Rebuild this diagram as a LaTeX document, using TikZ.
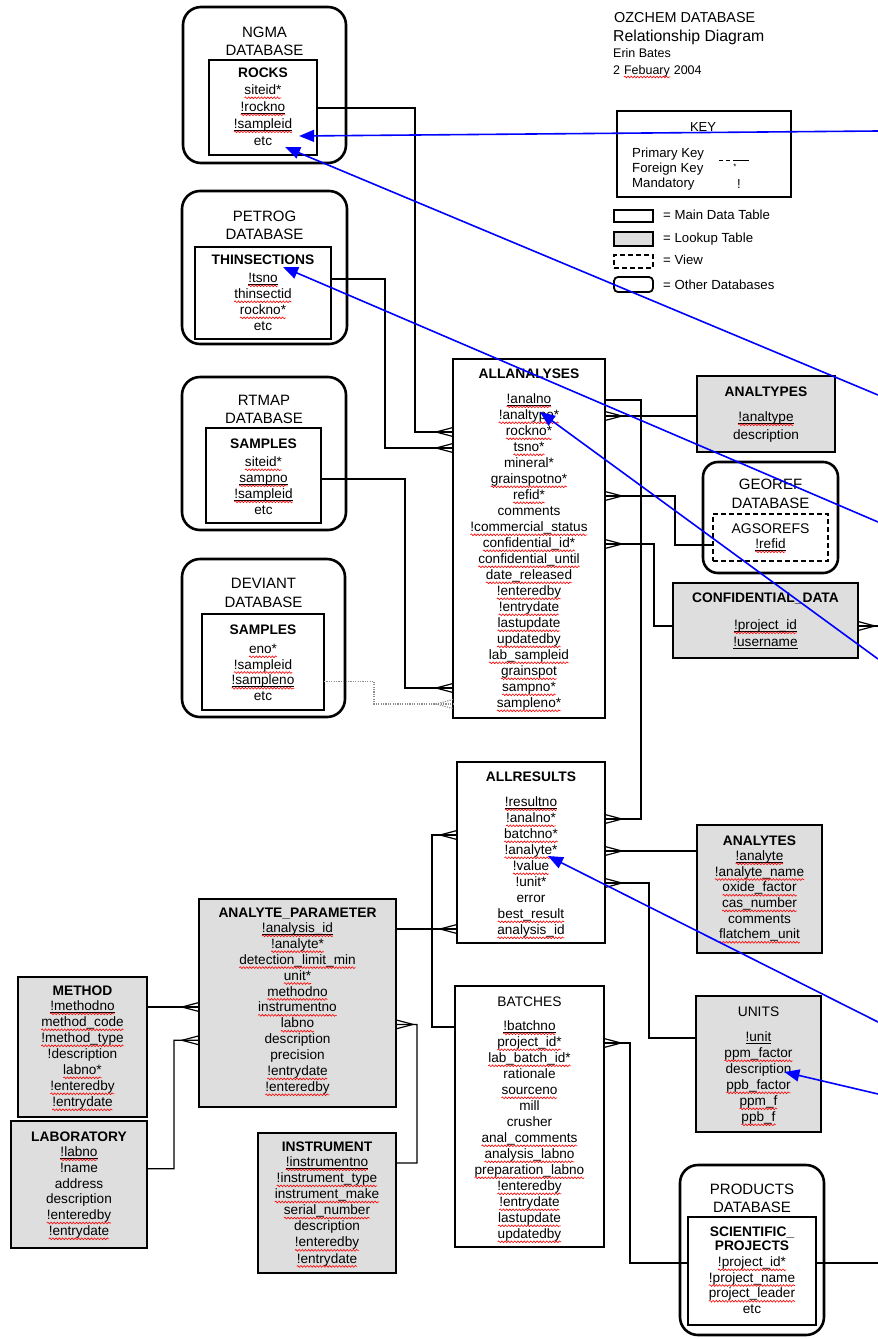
\documentclass[tikz,border=0pt]{standalone}
\usepackage{fontspec}
\setmainfont{Liberation Sans}
\usetikzlibrary{arrows.meta,decorations.pathmorphing}

\tikzset{
  tbl/.style={draw=black, line width=1.3pt, fill=white, rectangle, inner sep=0pt, outer sep=0pt, anchor=north west},
  lkp/.style={tbl, fill=black!13},
  vwt/.style={tbl, dash pattern=on 5pt off 3pt},
  dbs/.style={draw=black, line width=2.6pt, rectangle, rounded corners=18pt, inner sep=0pt, outer sep=0pt, anchor=north west},
  field/.style={font=\fontsize{13.6}{15}\selectfont, inner sep=0pt, outer sep=0pt, text height=9.8pt, text depth=3pt},
  ttl/.style={font=\bfseries\fontsize{13.8}{15}\selectfont, inner sep=0pt, text height=9.9pt, text depth=0pt},
  ttlr/.style={ttl, font=\fontsize{13.8}{15}\selectfont},
  dbn/.style={font=\fontsize{15}{17}\selectfont, inner sep=0pt, text height=10.7pt, text depth=0pt},
  txt/.style={inner sep=0pt, anchor=west, font=\fontsize{13.2}{14}\selectfont, text height=9.4pt, text depth=2.6pt},
  ulin/.style={draw=black, line width=0.8pt},
  wavy/.style={draw=red, line width=0.6pt, decorate, decoration={snake, amplitude=0.9pt, segment length=3.2pt}},
  conn/.style={draw=black, line width=1.2pt},
  dconn/.style={draw=black!45, line width=1.1pt, dash pattern=on 1.2pt off 1.2pt},
  note/.style={draw=blue, line width=1.6pt, -{Triangle[length=15pt, width=12pt]}},
  cfR/.pic={\draw[conn] (0,-4.5) -- (17,0) -- (0,4.5);},
  cfL/.pic={\draw[conn] (0,-4.5) -- (-17,0) -- (0,4.5);},
  cfLd/.pic={\draw[dconn] (0,-4.5) -- (-17,0) -- (0,4.5);},
}

% a table or database frame from its two corners
\newcommand\tablebox[6]{\node[#2, minimum width={(#5)-(#3)}, minimum height={(#6)-(#4)}] (#1) at (#3,#4) {};}

% column names of a table: code/name, code n = plain, u = key underline,
% w = spelling wave, b = both
\newcommand\fields[5]{%
  \foreach \fs/\ft [count=\i] in {#5}{%
    \pgfmathsetmacro\yy{#3+(\i-1)*#4}%
    \node[field] (#1-\i) at (#2,\yy) {\ft};%
    \if\fs u\draw[ulin] ([yshift=1.3pt]#1-\i.south west) -- ([yshift=1.3pt]#1-\i.south east);\fi
    \if\fs b\draw[ulin] ([yshift=1.3pt]#1-\i.south west) -- ([yshift=1.3pt]#1-\i.south east);\fi
    \if\fs w\draw[wavy] ([yshift=-0.4pt]#1-\i.south west) -- ([yshift=-0.4pt]#1-\i.south east);\fi
    \if\fs b\draw[wavy] ([yshift=-0.4pt]#1-\i.south west) -- ([yshift=-0.4pt]#1-\i.south east);\fi
  }%
}

\begin{document}
\begin{tikzpicture}[x=1pt,y=-1pt]
\fill[white] (0,0) rectangle (878,1339);
\useasboundingbox (0,0) rectangle (878,1339);

% heading
\node[anchor=west, inner sep=0pt, font=\fontsize{14.4}{16}\selectfont] (hd1) at (614,18) {OZCHEM DATABASE};
\node[anchor=west, inner sep=0pt, font=\fontsize{15.8}{17}\selectfont] (hd2) at (613,37) {Relationship Diagram};
\node[anchor=base west, inner sep=0pt, font=\fontsize{12.5}{13}\selectfont] (hd3) at (613,57) {Erin Bates};
\node[anchor=base west, inner sep=0pt, font=\fontsize{12.5}{13}\selectfont] (hd4a) at (613,74) {2};
\node[anchor=base west, inner sep=0pt, font=\fontsize{12.5}{13}\selectfont] (hd4b) at ([xshift=3.5pt]hd4a.base east) {Febuary};
\node[anchor=base west, inner sep=0pt, font=\fontsize{12.5}{13}\selectfont] (hd4c) at ([xshift=3.5pt]hd4b.base east) {2004};
\draw[wavy] ([yshift=-3pt]hd4b.base west) -- ([yshift=-3pt]hd4b.base east);

% key
\tablebox{keybox}{tbl}{617}{111}{791}{197}
\node[inner sep=0pt, font=\fontsize{13}{14}\selectfont] (keyt) at (703,127) {KEY};
\node[txt] (kp) at (632,154) {Primary Key};
\node[txt] (kf) at (632,169) {Foreign Key};
\node[txt] (km) at (632,184) {Mandatory};
\draw[line width=0.9pt] (719,160) -- (723,160) (726,160) -- (730,160) (733,160) -- (749,160);
\node[inner sep=0pt, font=\fontsize{8}{8}\selectfont] (ks) at (735,167) {*};
\node[inner sep=0pt, font=\fontsize{13}{14}\selectfont] (kx) at (739,184) {!};

% legend
\tablebox{lg1}{tbl}{614}{210}{653}{222}
\node[txt] (lg1t) at (663,216) {= Main Data Table};
\tablebox{lg2}{lkp}{614}{232}{653}{246}
\node[txt] (lg2t) at (663,239) {= Lookup Table};
\tablebox{lg3}{vwt}{614}{255}{653}{268}
\node[txt] (lg3t) at (663,261) {= View};
\node[dbs, line width=1.8pt, rounded corners=4pt, minimum width=39, minimum height=15] (lg4) at (614,277) {};
\node[txt] (lg4t) at (663,286) {= Other Databases};

% database frames and tables
\tablebox{ngma}{dbs}{183}{7}{346}{163}
\tablebox{rocks}{tbl}{209}{60}{317}{155}
\tablebox{petrog}{dbs}{182}{191}{347}{344}
\tablebox{thin}{tbl}{195}{247}{331}{339}
\tablebox{rtmap}{dbs}{182}{377}{346}{530}
\tablebox{rtsam}{tbl}{206}{428}{321}{523}
\tablebox{deviant}{dbs}{182}{559}{345}{717}
\tablebox{dvsam}{tbl}{202}{614}{324}{710}
\tablebox{allan}{tbl}{453}{359}{605}{718}
\tablebox{antyp}{lkp}{697}{376}{835}{452}
\node[dbs, rounded corners=15pt, minimum width=135, minimum height=111] (georef) at (703,462) {};
\tablebox{agso}{vwt}{713}{514}{828}{561}
\tablebox{confd}{lkp}{673}{583}{858}{658}
\tablebox{allres}{tbl}{457}{762}{605}{943}
\tablebox{anlt}{lkp}{697}{825}{822}{953}
\tablebox{units}{lkp}{696}{996}{821}{1132}
\tablebox{ap}{lkp}{199}{899}{396}{1107}
\tablebox{meth}{lkp}{18}{977}{147}{1117}
\tablebox{lab}{lkp}{11}{1121}{147}{1248}
\tablebox{instr}{lkp}{258}{1133}{396}{1273}
\tablebox{bat}{tbl}{455}{986}{604}{1247}
\tablebox{products}{dbs}{680}{1165}{824}{1335}
\tablebox{sp}{tbl}{688}{1217}{816}{1325}

% database names
\node[dbn] (ngma-n1) at (264.5,32) {NGMA};
\node[dbn] (ngma-n2) at (264.5,50) {DATABASE};
\node[dbn] (petrog-n1) at (264.5,216) {PETROG};
\node[dbn] (petrog-n2) at (264.5,234) {DATABASE};
\node[dbn] (rtmap-n1) at (264,400) {RTMAP};
\node[dbn] (rtmap-n2) at (264,418) {DATABASE};
\node[dbn] (deviant-n1) at (263.5,583) {DEVIANT};
\node[dbn] (deviant-n2) at (263.5,602) {DATABASE};
\node[dbn] (georef-n1) at (770.5,484) {GEOREF};
\node[dbn] (georef-n2) at (770.5,503) {DATABASE};
\node[dbn] (products-n1) at (752,1189) {PRODUCTS};
\node[dbn] (products-n2) at (752,1207) {DATABASE};

% table names
\node[ttl] (rocks-t) at (263,73) {ROCKS};
\node[ttl] (thin-t) at (263,260) {THINSECTIONS};
\node[ttl] (rtsam-t) at (263.5,444) {SAMPLES};
\node[ttl] (dvsam-t) at (263,630) {SAMPLES};
\node[ttl] (allan-t) at (529,374) {ALLANALYSES};
\node[ttl] (antyp-t) at (766,392) {ANALTYPES};
\node[dbn, font=\fontsize{14}{16}\selectfont] (agso-t) at (770.5,528) {AGSOREFS};
\node[ttl] (confd-t) at (765.5,598) {CONFIDENTIAL\_DATA};
\node[ttl] (allres-t) at (531,777) {ALLRESULTS};
\node[ttl] (anlt-t) at (759.5,841) {ANALYTES};
\node[ttlr] (units-t) at (758.5,1012) {UNITS};
\node[ttl] (ap-t) at (297.5,913) {ANALYTE\_PARAMETER};
\node[ttl] (meth-t) at (82.5,991) {METHOD};
\node[ttl] (lab-t) at (79,1137) {LABORATORY};
\node[ttl] (instr-t) at (327,1147) {INSTRUMENT};
\node[ttlr] (bat-t) at (529.5,1002) {BATCHES};
\node[ttl] (sp-t1) at (752,1232) {SCIENTIFIC\_};
\node[ttl] (sp-t2) at (752,1246) {PROJECTS};

% columns
\fields{rocks}{263}{91}{17}{w/siteid*,b/!rockno,b/!sampleid,n/etc}
\fields{thin}{263}{279}{16}{b/!tsno,w/thinsectid,w/rockno*,n/etc}
\fields{rtsam}{263.5}{463}{16}{w/siteid*,b/sampno,b/!sampleid,n/etc}
\fields{dvsam}{263}{650}{15.7}{w/eno*,w/!sampleid,b/!sampleno,n/etc}
\fields{allan}{529}{400}{16}{b/!analno,w/!analtype*,w/rockno*,w/tsno*,n/mineral*,w/grainspotno*,w/refid*,n/comments,w/!commercial\_status,w/confidential\_id*,w/confidential\_until,w/date\_released,w/!enteredby,w/!entrydate,w/lastupdate,w/updatedby,w/lab\_sampleid,w/grainspot,w/sampno*,w/sampleno*}
\fields{antyp}{766}{418}{18}{b/!analtype,n/description}
\fields{agso}{770.5}{545}{16}{b/!refid}
\fields{confd}{765.5}{626}{17}{b/!project\_id,u/!username}
\fields{allres}{531}{803}{16}{b/!resultno,w/!analno*,w/batchno*,w/!analyte*,w/!value,n/!unit*,n/error,w/best\_result,w/analysis\_id}
\fields{anlt}{759.5}{857}{15.7}{b/!analyte,w/!analyte\_name,w/oxide\_factor,w/cas\_number,n/comments,w/flatchem\_unit}
\fields{units}{758.5}{1038}{16}{u/!unit,w/ppm\_factor,n/description,w/ppb\_factor,w/ppm\_f,w/ppb\_f}
\fields{ap}{297.5}{929}{15.9}{b/!analysis\_id,w/!analyte*,w/detection\_limit\_min,w/unit*,w/methodno,w/instrumentno,w/labno,n/description,n/precision,w/!entrydate,w/!enteredby}
\fields{meth}{82.5}{1007}{16}{b/!methodno,w/method\_code,w/!method\_type,n/!description,w/labno*,w/!enteredby,w/!entrydate}
\fields{lab}{79}{1153}{15.8}{b/!labno,n/!name,n/address,n/description,w/!enteredby,w/!entrydate}
\fields{instr}{327}{1163}{16.1}{b/!instrumentno,w/!instrument\_type,w/instrument\_make,w/serial\_number,n/description,w/!enteredby,w/!entrydate}
\fields{bat}{529.5}{1027}{16}{b/!batchno,w/project\_id*,w/lab\_batch\_id*,n/rationale,w/sourceno,n/mill,n/crusher,w/anal\_comments,w/analysis\_labno,w/preparation\_labno,w/!enteredby,w/!entrydate,w/lastupdate,w/updatedby}
\fields{sp}{752}{1263}{15.7}{w/!project\_id*,w/!project\_name,w/project\_leader,n/etc}

% relationships
\coordinate (cdout) at (878,626);
\coordinate (spout) at (878,1263);
\draw[conn] (rocks.east |- rocks-2) -| (415,432) -- (allan.west |- allan-3);
\pic at (allan.west |- allan-3) {cfL};
\draw[conn] (thin.east |- thin-1) -| (385,448) -- (allan.west |- allan-4);
\pic at (allan.west |- allan-4) {cfL};
\draw[conn] (rtsam.east |- rtsam-2) -| (405,688) -- (allan.west |- allan-19);
\pic at (allan.west |- allan-19) {cfL};
\draw[dconn] (dvsam.east |- dvsam-3) -| (374,704) -- (allan.west |- allan-20);
\pic at (allan.west |- allan-20) {cfLd};
\draw[conn] (allan.east |- allan-2) -- (antyp.west |- allan-2);
\pic at (allan.east |- allan-2) {cfR};
\draw[conn] (allan.east |- allan-7) -| (675,545) -- (agso.west |- agso-1);
\pic at (allan.east |- allan-7) {cfR};
\draw[conn] (allan.east |- allan-10) -| (654,626) -- (confd.west |- confd-1);
\pic at (allan.east |- allan-10) {cfR};
\draw[conn] (confd.east |- confd-1) -- (cdout);
\pic at (confd.east |- confd-1) {cfR};
\draw[conn] (allan.east |- allan-1) -| (641,819) -- (allres.east |- allres-2);
\pic at (allres.east |- allres-2) {cfR};
\draw[conn] (anlt.west |- allres-4) -- (allres.east |- allres-4);
\pic at (allres.east |- allres-4) {cfR};
\draw[conn] (units.west |- units-1) -| (649,883) -- (allres.east |- allres-6);
\pic at (allres.east |- allres-6) {cfR};
\draw[conn] (bat.west |- bat-1) -| (432,835) -- (allres.west |- allres-3);
\pic at (allres.west |- allres-3) {cfL};
\draw[conn] (ap.east |- ap-1) -- (allres.west |- ap-1);
\pic at (allres.west |- ap-1) {cfL};
\draw[conn] (meth.east |- meth-1) -- (ap.west |- meth-1);
\pic at (ap.west |- meth-1) {cfL};
\draw[conn] (lab.east |- lab-2) -| (174,1040.3) -- (ap.west |- ap-8);
\pic at (ap.west |- ap-8) {cfL};
\draw[conn] (instr.east |- instr-1) -| (417,1024.4) -- (ap.east |- ap-7);
\pic at (ap.east |- ap-7) {cfR};
\draw[conn] (bat.east |- bat-2) -| (630,1263) -- (sp.west |- sp-1);
\pic at (bat.east |- bat-2) {cfR};
\draw[conn] (sp.east |- sp-1) -- (spout);

% annotation pointers
\coordinate (n1) at (878,131);
\coordinate (n2) at (878,395);
\coordinate (n3) at (878,522);
\coordinate (n4) at (878,659);
\coordinate (n5) at (878,1022);
\coordinate (n6) at (878,1094);
\draw[note] (n1) -- ([xshift=7pt,yshift=-11pt]rocks-3.east);
\draw[note] (n2) -- ([xshift=13pt,yshift=-5pt]rocks-4.east);
\draw[note] (n3) -- ([xshift=20pt,yshift=-7pt]thin-t.center);
\draw[note] (n4) -- ([xshift=11pt,yshift=4pt]allan-2.center);
\draw[note] (n5) -- ([xshift=17pt,yshift=-5pt]allres-4.center);
\draw[note] (n6) -- ([xshift=-7pt,yshift=-2pt]units-3.east);
\end{tikzpicture}
\end{document}
